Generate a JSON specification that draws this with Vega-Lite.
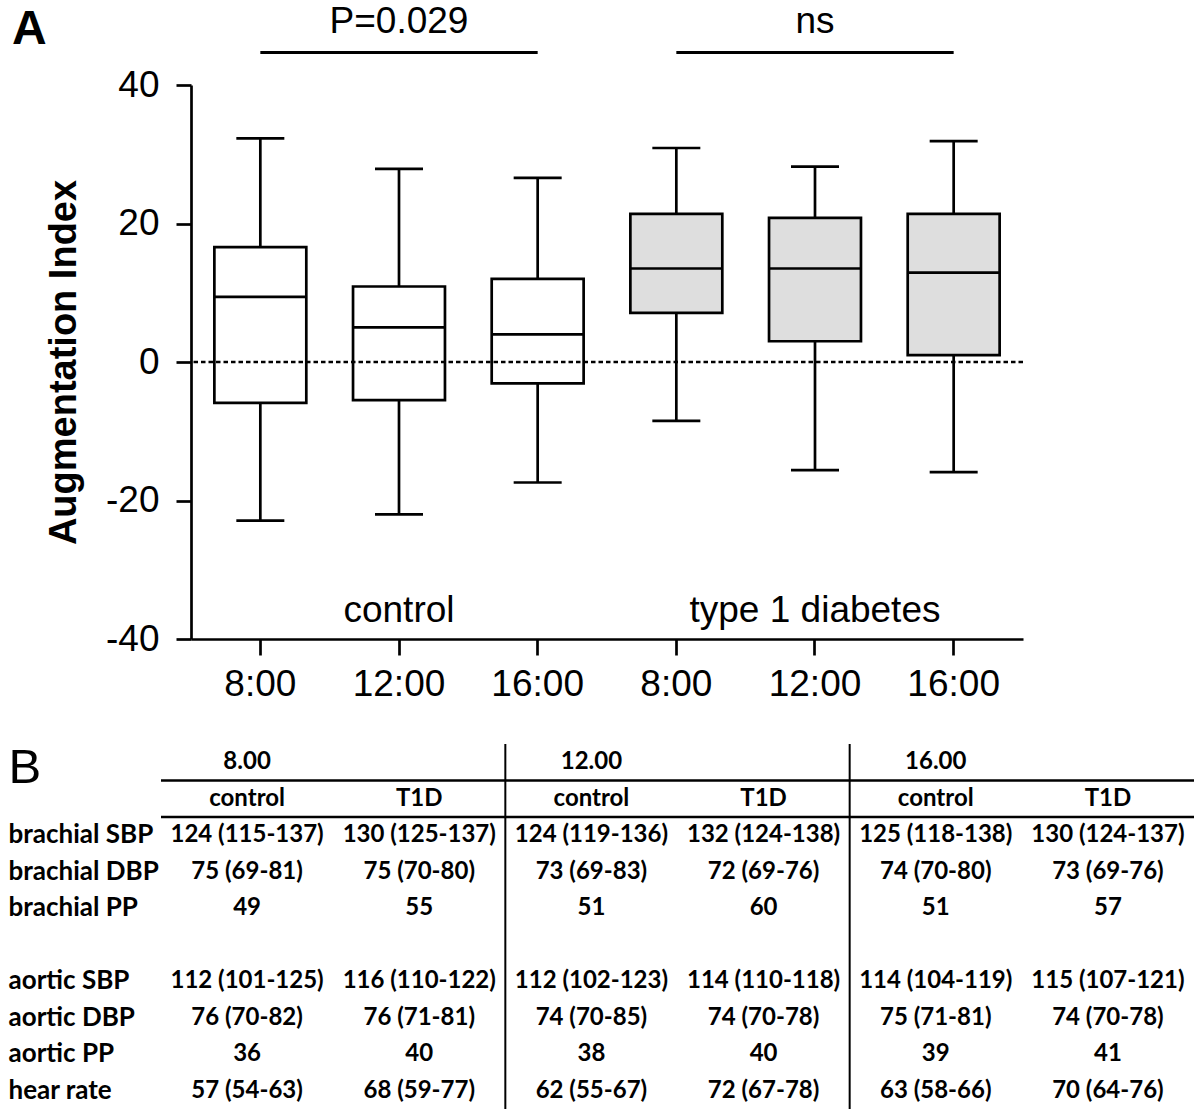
{
  "$schema": "https://vega.github.io/schema/vega-lite/v6.json",
  "width": 832,
  "height": 554,
  "padding": {"left": 8, "top": 3, "right": 0, "bottom": 0},
  "background": "white",
  "title": {"text": "A", "anchor": "start", "frame": "group", "font": "Liberation Sans", "fontSize": 48, "fontWeight": "bold", "color": "black", "dx": -179, "dy": 51, "offset": 0},
  "config": {"view": {"stroke": null}, "axis": {"grid": false}},
  "datasets": {
    "boxes": [
      {"box": "control 8:00", "group": "control", "lower": -22.9, "q1": -5.9, "median": 9.4, "q3": 16.6, "upper": 32.3},
      {"box": "control 12:00", "group": "control", "lower": -22.0, "q1": -5.5, "median": 5.0, "q3": 10.9, "upper": 27.9},
      {"box": "control 16:00", "group": "control", "lower": -17.4, "q1": -3.1, "median": 4.0, "q3": 12.0, "upper": 26.6},
      {"box": "type 1 diabetes 8:00", "group": "type 1 diabetes", "lower": -8.5, "q1": 7.1, "median": 13.5, "q3": 21.4, "upper": 30.9},
      {"box": "type 1 diabetes 12:00", "group": "type 1 diabetes", "lower": -15.6, "q1": 3.0, "median": 13.5, "q3": 20.8, "upper": 28.2},
      {"box": "type 1 diabetes 16:00", "group": "type 1 diabetes", "lower": -15.9, "q1": 1.0, "median": 12.9, "q3": 21.4, "upper": 31.9}
    ],
    "significance": [
      {"label": "P=0.029", "from": "control 8:00", "to": "control 16:00", "mid": "control 12:00"},
      {"label": "ns", "from": "type 1 diabetes 8:00", "to": "type 1 diabetes 16:00", "mid": "type 1 diabetes 12:00"}
    ],
    "groups": [
      {"label": "control", "mid": "control 12:00"},
      {"label": "type 1 diabetes", "mid": "type 1 diabetes 12:00"}
    ],
    "table": [
      {"row": "time", "control 8": "8.00", "control 12": "12.00", "control 16": "16.00"},
      {"row": "group", "control 8": "control", "T1D 8": "T1D", "control 12": "control", "T1D 12": "T1D", "control 16": "control", "T1D 16": "T1D"},
      {"row": "brachial SBP", "control 8": "124 (115-137)", "T1D 8": "130 (125-137)", "control 12": "124 (119-136)", "T1D 12": "132 (124-138)", "control 16": "125 (118-138)", "T1D 16": "130 (124-137)"},
      {"row": "brachial DBP", "control 8": "75 (69-81)", "T1D 8": "75 (70-80)", "control 12": "73 (69-83)", "T1D 12": "72 (69-76)", "control 16": "74 (70-80)", "T1D 16": "73 (69-76)"},
      {"row": "brachial PP", "control 8": "49", "T1D 8": "55", "control 12": "51", "T1D 12": "60", "control 16": "51", "T1D 16": "57"},
      {"row": "aortic SBP", "control 8": "112 (101-125)", "T1D 8": "116 (110-122)", "control 12": "112 (102-123)", "T1D 12": "114 (110-118)", "control 16": "114 (104-119)", "T1D 16": "115 (107-121)"},
      {"row": "aortic DBP", "control 8": "76 (70-82)", "T1D 8": "76 (71-81)", "control 12": "74 (70-85)", "T1D 12": "74 (70-78)", "control 16": "75 (71-81)", "T1D 16": "74 (70-78)"},
      {"row": "aortic PP", "control 8": "36", "T1D 8": "40", "control 12": "38", "T1D 12": "40", "control 16": "39", "T1D 16": "41"},
      {"row": "hear rate", "control 8": "57 (54-63)", "T1D 8": "68 (59-77)", "control 12": "62 (55-67)", "T1D 12": "72 (67-78)", "control 16": "63 (58-66)", "T1D 16": "70 (64-76)"}
    ],
    "vlines": [
      {"col": "control 12", "from": "time", "to": "hear rate"},
      {"col": "control 16", "from": "time", "to": "hear rate"}
    ],
    "hlines": [
      {"row": "group", "from": "control 8", "to": "T1D 16"},
      {"row": "brachial SBP", "from": "control 8", "to": "T1D 16"}
    ]
  },
  "layer": [
    {
      "data": {"name": "boxes"},
      "layer": [
        {
          "mark": {"type": "rule", "color": "black", "strokeWidth": 2.7},
          "encoding": {
            "x": {
              "field": "box", "type": "nominal",
              "scale": {"domain": ["control 8:00", "control 12:00", "control 16:00", "type 1 diabetes 8:00", "type 1 diabetes 12:00", "type 1 diabetes 16:00"], "paddingInner": 0.337, "paddingOuter": 0.1685},
              "axis": {"title": null, "labelExpr": "replace(replace(datum.value, 'control ', ''), 'type 1 diabetes ', '')", "labelAngle": 0, "labelFont": "Liberation Sans", "labelFontSize": 37, "labelColor": "black", "labelPadding": 11, "tickSize": 16, "tickWidth": 2.7, "tickColor": "black", "domainColor": "black", "domainWidth": 2.7}
            },
            "y": {
              "field": "lower", "type": "quantitative",
              "scale": {"domain": [-40, 40], "nice": false, "zero": false},
              "axis": {"values": [-40, -20, 0, 20, 40], "labelExpr": "'' + datum.value", "title": "Augmentation Index", "titleFont": "Liberation Sans", "titleFontWeight": "bold", "titleFontSize": 38, "titleColor": "black", "titlePadding": 22, "labelFont": "Liberation Sans", "labelFontSize": 37, "labelColor": "black", "labelPadding": 17, "labelFlush": false, "tickSize": 15, "tickWidth": 2.7, "tickColor": "black", "domainColor": "black", "domainWidth": 2.7}
            },
            "y2": {"field": "upper"}
          }
        },
        {
          "mark": {"type": "bar", "stroke": "black", "strokeWidth": 2.7},
          "encoding": {
            "x": {"field": "box", "type": "nominal"},
            "y": {"field": "q1", "type": "quantitative"},
            "y2": {"field": "q3"},
            "color": {"field": "group", "type": "nominal", "scale": {"domain": ["control", "type 1 diabetes"], "range": ["#ffffff", "#dedede"]}, "legend": null}
          }
        },
        {
          "mark": {"type": "tick", "orient": "horizontal", "size": 92, "thickness": 2.7, "color": "black", "opacity": 1},
          "encoding": {
            "x": {"field": "box", "type": "nominal"},
            "y": {"field": "median", "type": "quantitative"}
          }
        },
        {
          "mark": {"type": "tick", "orient": "horizontal", "size": 48, "thickness": 2.7, "color": "black", "opacity": 1},
          "encoding": {
            "x": {"field": "box", "type": "nominal"},
            "y": {"field": "lower", "type": "quantitative"}
          }
        },
        {
          "mark": {"type": "tick", "orient": "horizontal", "size": 48, "thickness": 2.7, "color": "black", "opacity": 1},
          "encoding": {
            "x": {"field": "box", "type": "nominal"},
            "y": {"field": "upper", "type": "quantitative"}
          }
        },
        {
          "data": {"values": [{"ref": 0}]},
          "mark": {"type": "rule", "color": "black", "strokeWidth": 2.3, "strokeDash": [4.5, 3]},
          "encoding": {"y": {"field": "ref", "type": "quantitative"}}
        },
        {
          "data": {"name": "significance"},
          "mark": {"type": "rule", "color": "black", "strokeWidth": 3},
          "encoding": {
            "x": {"field": "from", "type": "nominal"},
            "x2": {"field": "to"},
            "y": {"datum": 44.7, "type": "quantitative"}
          }
        },
        {
          "data": {"name": "significance"},
          "mark": {"type": "text", "font": "Liberation Sans", "fontSize": 37, "baseline": "alphabetic", "color": "black"},
          "encoding": {
            "x": {"field": "mid", "type": "nominal"},
            "y": {"datum": 47.5, "type": "quantitative"},
            "text": {"field": "label"}
          }
        },
        {
          "data": {"name": "groups"},
          "mark": {"type": "text", "font": "Liberation Sans", "fontSize": 37, "baseline": "alphabetic", "color": "black"},
          "encoding": {
            "x": {"field": "mid", "type": "nominal"},
            "y": {"datum": -37.6, "type": "quantitative"},
            "text": {"field": "label"}
          }
        }
      ]
    },
    {
      "layer": [
        {
          "data": {"name": "table"},
          "transform": [
            {"fold": ["control 8", "T1D 8", "control 12", "T1D 12", "control 16", "T1D 16"], "as": ["col", "value"]},
            {"filter": "datum.value != null"}
          ],
          "mark": {"type": "text", "font": "Lato", "fontSize": 24, "fontWeight": "bold", "color": "black", "align": "center", "baseline": "middle"},
          "encoding": {
            "x": {
              "field": "col", "type": "nominal",
              "scale": {"type": "band", "domain": ["control 8", "T1D 8", "control 12", "T1D 12", "control 16", "T1D 16"], "range": [-30, 1003], "paddingInner": 0, "paddingOuter": 0},
              "axis": null
            },
            "y": {
              "field": "row", "type": "nominal",
              "scale": {"type": "band", "domain": ["time", "group", "brachial SBP", "brachial DBP", "brachial PP", "gap", "aortic SBP", "aortic DBP", "aortic PP", "hear rate"], "range": [659, 1024], "paddingInner": 0, "paddingOuter": 0},
              "axis": {
                "orient": "left", "title": null, "domain": false, "ticks": false, "grid": false,
                "labelAlign": "left", "labelBaseline": "middle", "labelPadding": 183, "labelColor": "black", "labelLimit": 400, "labelOverlap": false,
                "labelFont": {"condition": {"test": "datum.value === 'time'", "value": "Liberation Sans"}, "value": "Lato"},
                "labelFontSize": {"condition": {"test": "datum.value === 'time'", "value": 49}, "value": 26},
                "labelFontWeight": {"condition": {"test": "datum.value === 'time'", "value": "normal"}, "value": "bold"},
                "labelOffset": {"condition": {"test": "datum.value === 'time'", "value": 6}, "value": 0},
                "labelExpr": "datum.value === 'time' ? 'B' : (datum.value === 'group' || datum.value === 'gap' ? '' : datum.value)"
              }
            },
            "text": {"field": "value"}
          }
        },
        {
          "data": {"name": "vlines"},
          "mark": {"type": "rule", "color": "black", "strokeWidth": 2},
          "encoding": {
            "x": {"field": "col", "type": "nominal", "bandPosition": 0, "axis": null},
            "y": {"field": "from", "type": "nominal", "bandPosition": 0},
            "y2": {"field": "to", "bandPosition": 1}
          }
        },
        {
          "data": {"name": "hlines"},
          "mark": {"type": "rule", "color": "black", "strokeWidth": 2.5},
          "encoding": {
            "y": {"field": "row", "type": "nominal", "bandPosition": 0},
            "x": {"field": "from", "type": "nominal", "bandPosition": 0, "axis": null},
            "x2": {"field": "to", "bandPosition": 1}
          }
        }
      ]
    }
  ],
  "resolve": {"scale": {"x": "independent", "y": "independent"}}
}
